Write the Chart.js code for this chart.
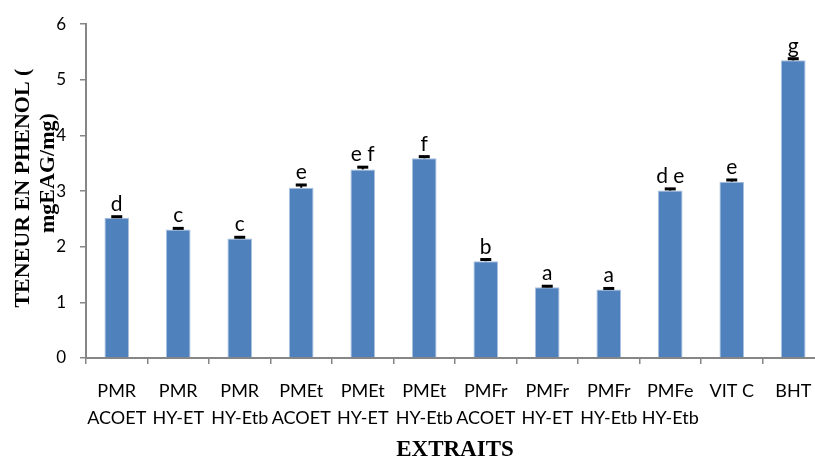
<!DOCTYPE html>
<html>
<head>
<meta charset="utf-8">
<script src="https://cdn.jsdelivr.net/npm/chart.js@4"></script>
<style>
  html, body { margin: 0; padding: 0; overflow: hidden; background: #fff; width: 815px; height: 457px; }
  #wrap { position: relative; width: 830px; height: 457px; }
</style>
</head>
<body>
<div id="wrap"><canvas id="c"></canvas></div>
<script>
// Extracts (two-line category labels)
const categories = [
  ["PMR", "ACOET"], ["PMR", "HY-ET"], ["PMR", "HY-Etb"],
  ["PMEt", "ACOET"], ["PMEt", "HY-ET"], ["PMEt", "HY-Etb"],
  ["PMFr", "ACOET"], ["PMFr", "HY-ET"], ["PMFr", "HY-Etb"],
  ["PMFe", "HY-Etb"], ["VIT C"], ["BHT"]
];
// Phenol content, mgEAG/mg
const values = [2.52, 2.31, 2.15, 3.06, 3.39, 3.59, 1.74, 1.27, 1.23, 3.01, 3.17, 5.35];
// Standard deviations
const errors = [0.02, 0.02, 0.02, 0.05, 0.04, 0.03, 0.03, 0.02, 0.02, 0.03, 0.03, 0.03];
// Significance groups
const letters = ["d", "c", "c", "e", "e f", "f", "b", "a", "a", "d e", "e", "g"];
// Y axis range
const yMin = 0, yMax = 6, yStep = 1;

const AXIS_GREY = '#868686';

const errorBars = {
  id: 'errorBars',
  afterDatasetsDraw(chart) {
    const { ctx, scales: { y } } = chart;
    const meta = chart.getDatasetMeta(0);
    ctx.save();
    ctx.strokeStyle = '#000';
    meta.data.forEach((bar, i) => {
      const x = bar.x;
      const top = y.getPixelForValue(values[i] + errors[i]);
      const base = y.getPixelForValue(values[i]);
      ctx.lineWidth = 2;
      ctx.beginPath(); ctx.moveTo(x, top); ctx.lineTo(x, base); ctx.stroke();
      ctx.lineWidth = 3;
      ctx.beginPath(); ctx.moveTo(x - 5.5, top); ctx.lineTo(x + 5.5, top); ctx.stroke();
    });
    ctx.restore();
  }
};

const groupLetters = {
  id: 'groupLetters',
  afterDatasetsDraw(chart) {
    const { ctx, scales: { y } } = chart;
    const meta = chart.getDatasetMeta(0);
    ctx.save();
    ctx.fillStyle = '#000';
    ctx.font = '21px Lato';
    ctx.textAlign = 'center';
    ctx.textBaseline = 'alphabetic';
    meta.data.forEach((bar, i) => {
      ctx.fillText(letters[i], bar.x, y.getPixelForValue(values[i] + errors[i]) - 6);
    });
    ctx.restore();
  }
};

const axisTitles = {
  id: 'axisTitles',
  afterDraw(chart) {
    const { ctx, chartArea: a } = chart;
    const cy = (a.top + a.bottom) / 2;
    const cx = (a.left + a.right) / 2;
    ctx.save();
    ctx.fillStyle = '#000';
    ctx.font = 'bold 22px "Liberation Serif"';
    ctx.textAlign = 'center';
    ctx.textBaseline = 'alphabetic';
    ctx.save();
    ctx.translate(29, cy - 3);
    ctx.rotate(-Math.PI / 2);
    ctx.fillText('TENEUR EN PHENOL (', 0, 0);
    ctx.restore();
    ctx.save();
    ctx.translate(54, cy - 18);
    ctx.rotate(-Math.PI / 2);
    ctx.fillText('mgEAG/mg)', 0, 0);
    ctx.restore();
    ctx.font = 'bold 23px "Liberation Serif"';
    ctx.fillText('EXTRAITS', cx, 456);
    ctx.restore();
  }
};

new Chart(document.getElementById('c'), {
  type: 'bar',
  data: {
    labels: categories,
    datasets: [{
      data: values,
      backgroundColor: '#4F81BD',
      borderColor: '#A9C0DF',
      borderWidth: 1,
      barPercentage: 0.4,
      categoryPercentage: 1
    }]
  },
  options: {
    responsive: true,
    maintainAspectRatio: false,
    animation: false,
    layout: { padding: { top: 23, right: 6, left: 0, bottom: 0 } },
    plugins: { legend: { display: false }, tooltip: { enabled: false } },
    scales: {
      x: {
        grid: { display: true, drawOnChartArea: false, drawTicks: true, tickLength: 6, color: AXIS_GREY, lineWidth: 1.5, offset: true },
        border: { display: true, color: AXIS_GREY, width: 2 },
        ticks: {
          autoSkip: false, maxRotation: 0, minRotation: 0, color: '#000', padding: 14,
          font: { family: 'Lato', size: 18, lineHeight: 1.48 }
        },
        afterFit(s) { s.height = 99; }
      },
      y: {
        min: yMin, max: yMax,
        ticks: { stepSize: yStep, color: '#000', padding: 14, font: { family: 'Lato', size: 17 } },
        grid: { drawOnChartArea: false, drawTicks: true, tickLength: 6, color: AXIS_GREY, lineWidth: 1.5 },
        border: { display: true, color: AXIS_GREY, width: 2 },
        afterFit(s) { s.width = 86; }
      }
    }
  },
  plugins: [errorBars, groupLetters, axisTitles]
});
</script>
</body>
</html>
